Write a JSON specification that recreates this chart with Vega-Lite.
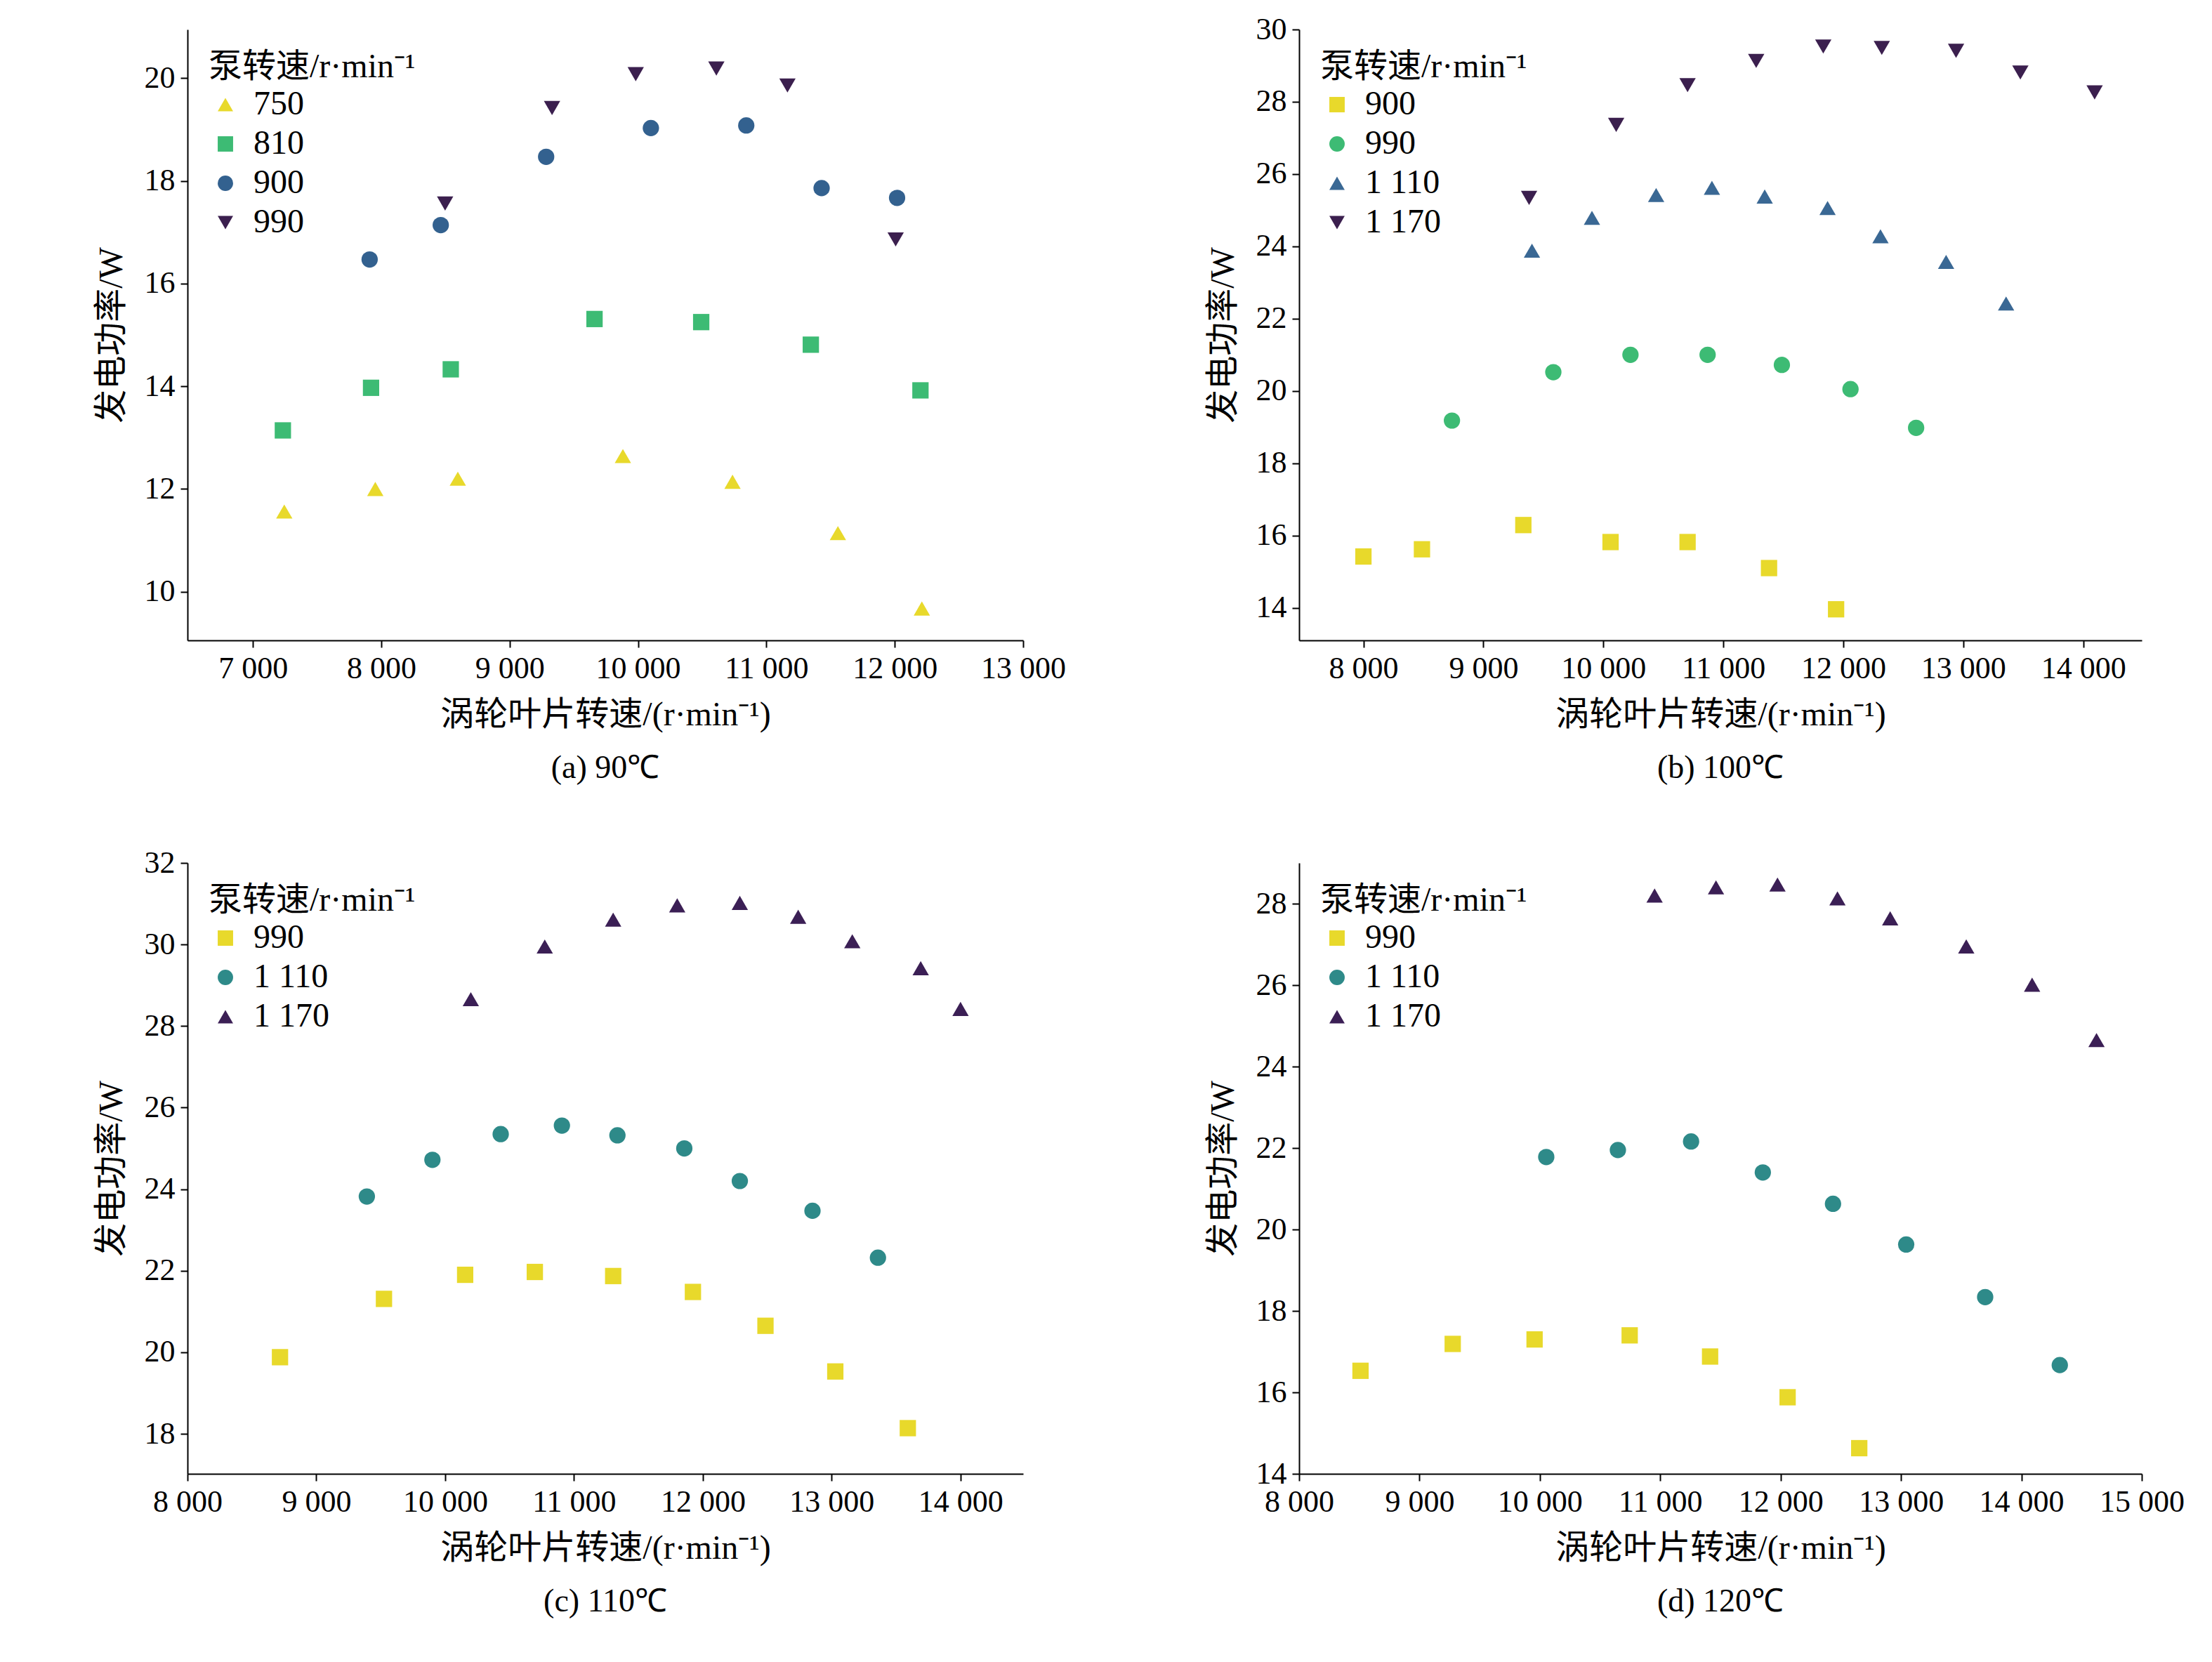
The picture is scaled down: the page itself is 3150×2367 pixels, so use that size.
{
  "$schema": "https://vega.github.io/schema/vega-lite/v6.json",
  "background": "white",
  "padding": {"left": 135, "top": 20, "right": 20, "bottom": 10},
  "datasets": {
    "pts": [
      {"panel": "a", "s": "750", "x": 7244, "y": 11.56}, {"panel": "a", "s": "750", "x": 7953, "y": 12.0}, {"panel": "a", "s": "750", "x": 8596, "y": 12.2}, {"panel": "a", "s": "750", "x": 9882, "y": 12.64}, {"panel": "a", "s": "750", "x": 10736, "y": 12.14}, {"panel": "a", "s": "750", "x": 11557, "y": 11.14}, {"panel": "a", "s": "750", "x": 12211, "y": 9.67},
      {"panel": "a", "s": "810", "x": 7233, "y": 13.14}, {"panel": "a", "s": "810", "x": 7920, "y": 13.97}, {"panel": "a", "s": "810", "x": 8541, "y": 14.33}, {"panel": "a", "s": "810", "x": 9661, "y": 15.31}, {"panel": "a", "s": "810", "x": 10492, "y": 15.25}, {"panel": "a", "s": "810", "x": 11346, "y": 14.81}, {"panel": "a", "s": "810", "x": 12200, "y": 13.92},
      {"panel": "a", "s": "900", "x": 7909, "y": 16.47}, {"panel": "a", "s": "900", "x": 8463, "y": 17.14}, {"panel": "a", "s": "900", "x": 9284, "y": 18.47}, {"panel": "a", "s": "900", "x": 10100, "y": 19.03}, {"panel": "a", "s": "900", "x": 10843, "y": 19.08}, {"panel": "a", "s": "900", "x": 11430, "y": 17.86}, {"panel": "a", "s": "900", "x": 12018, "y": 17.67},
      {"panel": "a", "s": "990", "x": 8497, "y": 17.56}, {"panel": "a", "s": "990", "x": 9330, "y": 19.42}, {"panel": "a", "s": "990", "x": 9982, "y": 20.08}, {"panel": "a", "s": "990", "x": 10610, "y": 20.19}, {"panel": "a", "s": "990", "x": 11164, "y": 19.86}, {"panel": "a", "s": "990", "x": 12007, "y": 16.86},

      {"panel": "b", "s": "900", "x": 8000, "y": 15.42}, {"panel": "b", "s": "900", "x": 8488, "y": 15.62}, {"panel": "b", "s": "900", "x": 9333, "y": 16.29}, {"panel": "b", "s": "900", "x": 10060, "y": 15.82}, {"panel": "b", "s": "900", "x": 10702, "y": 15.82}, {"panel": "b", "s": "900", "x": 11381, "y": 15.1}, {"panel": "b", "s": "900", "x": 11940, "y": 13.96},
      {"panel": "b", "s": "990", "x": 8738, "y": 19.18}, {"panel": "b", "s": "990", "x": 9583, "y": 20.52}, {"panel": "b", "s": "990", "x": 10226, "y": 21.0}, {"panel": "b", "s": "990", "x": 10869, "y": 21.0}, {"panel": "b", "s": "990", "x": 11488, "y": 20.72}, {"panel": "b", "s": "990", "x": 12060, "y": 20.05}, {"panel": "b", "s": "990", "x": 12607, "y": 18.98},
      {"panel": "b", "s": "1 110", "x": 9405, "y": 23.88}, {"panel": "b", "s": "1 110", "x": 9905, "y": 24.79}, {"panel": "b", "s": "1 110", "x": 10440, "y": 25.42}, {"panel": "b", "s": "1 110", "x": 10905, "y": 25.62}, {"panel": "b", "s": "1 110", "x": 11345, "y": 25.38}, {"panel": "b", "s": "1 110", "x": 11869, "y": 25.06}, {"panel": "b", "s": "1 110", "x": 12310, "y": 24.28}, {"panel": "b", "s": "1 110", "x": 12857, "y": 23.57}, {"panel": "b", "s": "1 110", "x": 13357, "y": 22.42},
      {"panel": "b", "s": "1 170", "x": 9381, "y": 25.34}, {"panel": "b", "s": "1 170", "x": 10107, "y": 27.36}, {"panel": "b", "s": "1 170", "x": 10702, "y": 28.46}, {"panel": "b", "s": "1 170", "x": 11274, "y": 29.13}, {"panel": "b", "s": "1 170", "x": 11833, "y": 29.53}, {"panel": "b", "s": "1 170", "x": 12321, "y": 29.49}, {"panel": "b", "s": "1 170", "x": 12940, "y": 29.41}, {"panel": "b", "s": "1 170", "x": 13476, "y": 28.81}, {"panel": "b", "s": "1 170", "x": 14095, "y": 28.26},

      {"panel": "c", "s": "990", "x": 8718, "y": 19.88}, {"panel": "c", "s": "990", "x": 9525, "y": 21.31}, {"panel": "c", "s": "990", "x": 10155, "y": 21.9}, {"panel": "c", "s": "990", "x": 10696, "y": 21.97}, {"panel": "c", "s": "990", "x": 11304, "y": 21.87}, {"panel": "c", "s": "990", "x": 11923, "y": 21.48}, {"panel": "c", "s": "990", "x": 12486, "y": 20.65}, {"panel": "c", "s": "990", "x": 13028, "y": 19.53}, {"panel": "c", "s": "990", "x": 13591, "y": 18.14},
      {"panel": "c", "s": "1 110", "x": 9392, "y": 23.82}, {"panel": "c", "s": "1 110", "x": 9901, "y": 24.72}, {"panel": "c", "s": "1 110", "x": 10431, "y": 25.35}, {"panel": "c", "s": "1 110", "x": 10906, "y": 25.56}, {"panel": "c", "s": "1 110", "x": 11337, "y": 25.32}, {"panel": "c", "s": "1 110", "x": 11856, "y": 25.0}, {"panel": "c", "s": "1 110", "x": 12287, "y": 24.2}, {"panel": "c", "s": "1 110", "x": 12851, "y": 23.47}, {"panel": "c", "s": "1 110", "x": 13359, "y": 22.32},
      {"panel": "c", "s": "1 170", "x": 10199, "y": 28.66}, {"panel": "c", "s": "1 170", "x": 10773, "y": 29.95}, {"panel": "c", "s": "1 170", "x": 11304, "y": 30.61}, {"panel": "c", "s": "1 170", "x": 11801, "y": 30.96}, {"panel": "c", "s": "1 170", "x": 12287, "y": 31.02}, {"panel": "c", "s": "1 170", "x": 12740, "y": 30.68}, {"panel": "c", "s": "1 170", "x": 13160, "y": 30.08}, {"panel": "c", "s": "1 170", "x": 13691, "y": 29.42}, {"panel": "c", "s": "1 170", "x": 14000, "y": 28.42},

      {"panel": "d", "s": "990", "x": 8510, "y": 16.53}, {"panel": "d", "s": "990", "x": 9276, "y": 17.19}, {"panel": "d", "s": "990", "x": 9956, "y": 17.3}, {"panel": "d", "s": "990", "x": 10746, "y": 17.4}, {"panel": "d", "s": "990", "x": 11414, "y": 16.88}, {"panel": "d", "s": "990", "x": 12058, "y": 15.88}, {"panel": "d", "s": "990", "x": 12653, "y": 14.63},
      {"panel": "d", "s": "1 110", "x": 10053, "y": 21.78}, {"panel": "d", "s": "1 110", "x": 10648, "y": 21.95}, {"panel": "d", "s": "1 110", "x": 11256, "y": 22.16}, {"panel": "d", "s": "1 110", "x": 11852, "y": 21.4}, {"panel": "d", "s": "1 110", "x": 12435, "y": 20.63}, {"panel": "d", "s": "1 110", "x": 13043, "y": 19.63}, {"panel": "d", "s": "1 110", "x": 13699, "y": 18.34}, {"panel": "d", "s": "1 110", "x": 14319, "y": 16.67},
      {"panel": "d", "s": "1 170", "x": 10953, "y": 28.2}, {"panel": "d", "s": "1 170", "x": 11463, "y": 28.4}, {"panel": "d", "s": "1 170", "x": 11974, "y": 28.47}, {"panel": "d", "s": "1 170", "x": 12472, "y": 28.13}, {"panel": "d", "s": "1 170", "x": 12910, "y": 27.64}, {"panel": "d", "s": "1 170", "x": 13542, "y": 26.95}, {"panel": "d", "s": "1 170", "x": 14089, "y": 26.01}, {"panel": "d", "s": "1 170", "x": 14624, "y": 24.65}
    ]
  },
  "data": {"name": "pts"},
  "resolve": {"scale": {"color": "independent", "shape": "independent", "x": "independent", "y": "independent"}, "legend": {"color": "independent", "shape": "independent"}},
  "config": {
    "font": "Liberation Serif, Noto Sans CJK SC",
    "view": {"stroke": null},
    "axis": {"grid": false, "domainColor": "black", "tickColor": "black", "labelColor": "black", "titleColor": "black", "labelFontSize": 44, "titleFontSize": 48, "titleFontWeight": "normal", "tickSize": 10, "labelFont": "Liberation Serif", "domainWidth": 2, "tickWidth": 2, "labelOverlap": false, "labelFlush": false},
    "axisX": {"titlePadding": 20, "labelPadding": 8},
    "axisY": {"titlePadding": 22, "labelPadding": 8},
    "legend": {"orient": "top-left", "offset": 30, "titleFontSize": 48, "labelFontSize": 48, "titleFontWeight": "normal", "titleColor": "black", "labelColor": "black", "symbolSize": 480, "rowPadding": 8, "titleLimit": 600, "labelFont": "Liberation Serif", "labelOffset": 16},
    "title": {"orient": "bottom", "fontSize": 46, "fontWeight": "normal", "color": "black", "offset": 30, "font": "Liberation Serif"},
    "point": {"filled": true, "opacity": 1, "size": 540}
  },
  "columns": 2,
  "spacing": {"row": 90, "column": 200},
  "concat": [
    {
      "title": "(a) 90℃",
      "width": 1190, "height": 870,
      "transform": [{"filter": "datum.panel == 'a'"}],
      "mark": "point",
      "encoding": {
        "x": {"field": "x", "type": "quantitative", "scale": {"domain": [6490, 13000], "nice": false, "zero": false}, "axis": {"values": [7000, 8000, 9000, 10000, 11000, 12000, 13000], "labelExpr": "replace(format(datum.value, ','), ',', ' ')", "title": "涡轮叶片转速/(r·min⁻¹)"}},
        "y": {"field": "y", "type": "quantitative", "scale": {"domain": [9.05, 20.95], "nice": false, "zero": false}, "axis": {"values": [10, 12, 14, 16, 18, 20], "title": "发电功率/W"}},
        "color": {"field": "s", "type": "nominal", "title": "泵转速/r·min⁻¹", "scale": {"domain": ["750", "810", "900", "990"], "range": ["#e8d92b", "#3dbb74", "#33618f", "#3b1f4e"]}},
        "shape": {"field": "s", "type": "nominal", "title": "泵转速/r·min⁻¹", "scale": {"domain": ["750", "810", "900", "990"], "range": ["triangle-up", "square", "circle", "triangle-down"]}}
      }
    },
    {
      "title": "(b) 100℃",
      "width": 1200, "height": 870,
      "transform": [{"filter": "datum.panel == 'b'"}],
      "mark": "point",
      "encoding": {
        "x": {"field": "x", "type": "quantitative", "scale": {"domain": [7464, 14488], "nice": false, "zero": false}, "axis": {"values": [8000, 9000, 10000, 11000, 12000, 13000, 14000], "labelExpr": "replace(format(datum.value, ','), ',', ' ')", "title": "涡轮叶片转速/(r·min⁻¹)"}},
        "y": {"field": "y", "type": "quantitative", "scale": {"domain": [13.1, 30], "nice": false, "zero": false}, "axis": {"values": [14, 16, 18, 20, 22, 24, 26, 28, 30], "title": "发电功率/W"}},
        "color": {"field": "s", "type": "nominal", "title": "泵转速/r·min⁻¹", "scale": {"domain": ["900", "990", "1 110", "1 170"], "range": ["#e8d92b", "#3dbb74", "#3a6894", "#3b1f4e"]}},
        "shape": {"field": "s", "type": "nominal", "title": "泵转速/r·min⁻¹", "scale": {"domain": ["900", "990", "1 110", "1 170"], "range": ["square", "circle", "triangle-up", "triangle-down"]}}
      }
    },
    {
      "title": "(c) 110℃",
      "width": 1190, "height": 870,
      "transform": [{"filter": "datum.panel == 'c'"}],
      "mark": "point",
      "encoding": {
        "x": {"field": "x", "type": "quantitative", "scale": {"domain": [8000, 14486], "nice": false, "zero": false}, "axis": {"values": [8000, 9000, 10000, 11000, 12000, 13000, 14000], "labelExpr": "replace(format(datum.value, ','), ',', ' ')", "title": "涡轮叶片转速/(r·min⁻¹)"}},
        "y": {"field": "y", "type": "quantitative", "scale": {"domain": [17.02, 32], "nice": false, "zero": false}, "axis": {"values": [18, 20, 22, 24, 26, 28, 30, 32], "title": "发电功率/W"}},
        "color": {"field": "s", "type": "nominal", "title": "泵转速/r·min⁻¹", "scale": {"domain": ["990", "1 110", "1 170"], "range": ["#e8d92b", "#2e8a89", "#3b1f55"]}},
        "shape": {"field": "s", "type": "nominal", "title": "泵转速/r·min⁻¹", "scale": {"domain": ["990", "1 110", "1 170"], "range": ["square", "circle", "triangle-up"]}}
      }
    },
    {
      "title": "(d) 120℃",
      "width": 1200, "height": 870,
      "transform": [{"filter": "datum.panel == 'd'"}],
      "mark": "point",
      "encoding": {
        "x": {"field": "x", "type": "quantitative", "scale": {"domain": [8000, 15000], "nice": false, "zero": false}, "axis": {"values": [8000, 9000, 10000, 11000, 12000, 13000, 14000, 15000], "labelExpr": "replace(format(datum.value, ','), ',', ' ')", "title": "涡轮叶片转速/(r·min⁻¹)"}},
        "y": {"field": "y", "type": "quantitative", "scale": {"domain": [14, 29], "nice": false, "zero": false}, "axis": {"values": [14, 16, 18, 20, 22, 24, 26, 28], "title": "发电功率/W"}},
        "color": {"field": "s", "type": "nominal", "title": "泵转速/r·min⁻¹", "scale": {"domain": ["990", "1 110", "1 170"], "range": ["#e8d92b", "#2e8a89", "#3b1f55"]}},
        "shape": {"field": "s", "type": "nominal", "title": "泵转速/r·min⁻¹", "scale": {"domain": ["990", "1 110", "1 170"], "range": ["square", "circle", "triangle-up"]}}
      }
    }
  ]
}
